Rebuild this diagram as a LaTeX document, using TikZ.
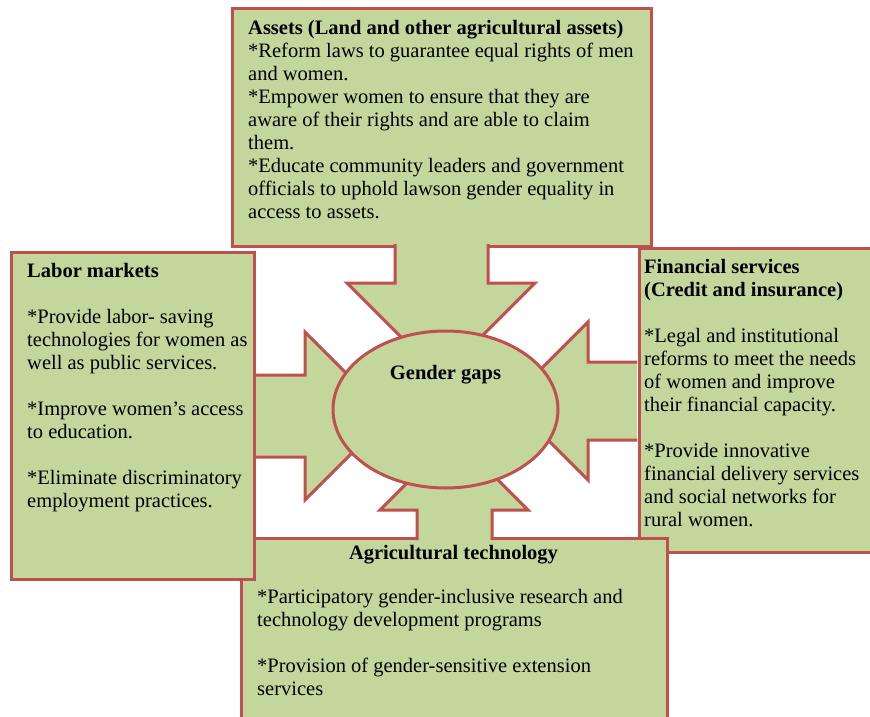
\documentclass[tikz,border=0pt]{standalone}
\usepackage{fontspec}
\setmainfont{Liberation Serif}
\usepackage{tikz}
\usetikzlibrary{shapes.geometric, positioning}
\definecolor{leaf}{HTML}{C3D69B}
\definecolor{brick}{HTML}{C0504D}
\tikzstyle{box} = [rectangle, draw=brick, fill=leaf, line width=3pt,
    inner sep=0pt, outer sep=0pt, anchor=north west]
\tikzstyle{arm} = [draw=brick, fill=leaf, line width=3pt]
\tikzstyle{hub} = [ellipse, draw=brick, fill=leaf, line width=3pt,
    minimum width=225pt, minimum height=157pt, inner sep=0pt]
\tikzstyle{txt} = [anchor=north west, align=left, inner sep=0pt,
    font=\fontsize{20.5}{23}\selectfont, execute at begin node=\rule{0pt}{16pt}]
\tikzstyle{head} = [anchor=base, inner sep=0pt,
    font=\fontsize{20.5}{23}\selectfont\bfseries]

\begin{document}
\begin{tikzpicture}[x=1pt, y=-1pt]
	\clip (0,0) rectangle (870,717);
	\node [box, minimum width=250pt, minimum height=304pt] (Finance) at (639,248) {};
	\node [box, minimum width=426pt, minimum height=200pt] (Technology) at (241,538) {};
	\node [box, minimum width=243pt, minimum height=327pt] (Labor) at (11,252) {};
	\node [box, minimum width=419pt, minimum height=237pt] (Assets) at (232,9) {};
	\path [arm] (395,244) -- (395,283) -- (347,283) -- (441,377)
		-- (535,283) -- (488,283) -- (488,244);
	\path [arm] (256,375) -- (305,375) -- (305,332) -- (389,416)
		-- (305,500) -- (305,457) -- (256,457);
	\path [arm] (637,362) -- (588,362) -- (588,322) -- (509,401)
		-- (588,480) -- (588,440) -- (637,440);
	\path [arm] (417,540) -- (417,510) -- (380,510) -- (454,436)
		-- (528,510) -- (492,510) -- (492,540);
	\node [hub] (Gaps) at (445.5,409.5) {};
	\node [head] (Gaps_label) at ([yshift=30pt]Gaps.center) {Gender gaps};
	\node [txt] (Assets_text) at ([xshift=16pt, yshift=-11pt]Assets.north west)
		{\textbf{Assets (Land and other agricultural assets)}\\
		*Reform laws to guarantee equal rights of men\\
		and women.\\
		*Empower women to ensure that they are\\
		aware of their rights and are able to claim\\
		them.\\
		*Educate community leaders and government\\
		officials to uphold lawson gender equality in\\
		access to assets.};
	\node [txt] (Labor_text) at ([xshift=16pt, yshift=-11pt]Labor.north west)
		{\textbf{Labor markets}\\[23pt]
		*Provide labor- saving\\
		technologies for women as\\
		well as public services.\\[23pt]
		*Improve women’s access\\
		to education.\\[23pt]
		*Eliminate discriminatory\\
		employment practices.};
	\node [txt] (Finance_text) at ([xshift=5pt, yshift=-11pt]Finance.north west)
		{\textbf{Financial services}\\
		\textbf{(Credit and insurance)}\\[23pt]
		*Legal and institutional\\
		reforms to meet the needs\\
		of women and improve\\
		their financial capacity.\\[23pt]
		*Provide innovative\\
		financial delivery services\\
		and social networks for\\
		rural women.};
	\node [head] (Technology_head) at ([xshift=-0.5pt, yshift=-21pt]Technology.north)
		{Agricultural technology};
	\node [txt] (Technology_text) at ([xshift=16pt, yshift=-51pt]Technology.north west)
		{*Participatory gender-inclusive research and\\
		technology development programs\\[23pt]
		*Provision of gender-sensitive extension\\
		services};
\end{tikzpicture}
\end{document}
